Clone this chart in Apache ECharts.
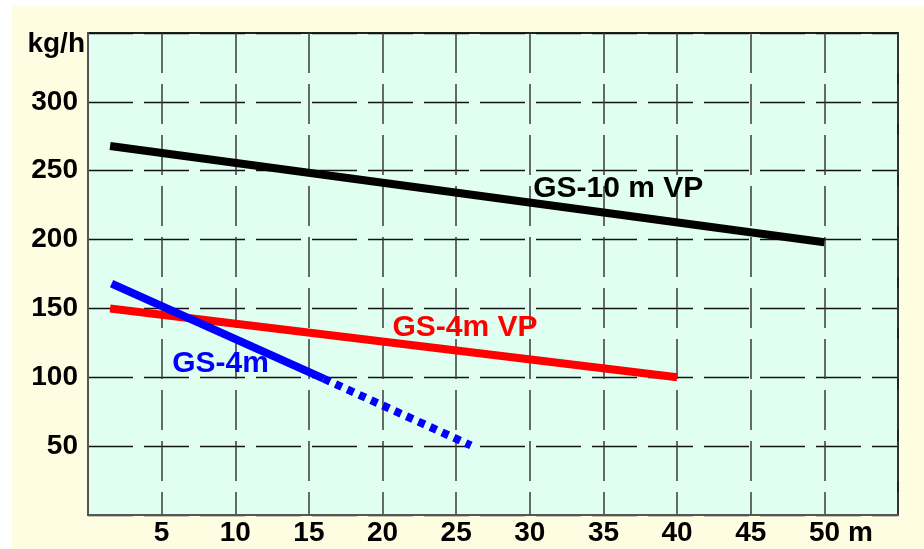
<!DOCTYPE html>
<html>
<head>
<meta charset="utf-8">
<script src="https://cdn.jsdelivr.net/npm/echarts@6/dist/echarts.min.js"></script>
<style>
html,body{margin:0;padding:0;background:#ffffff;width:924px;height:549px;overflow:hidden;}
#c{position:absolute;left:12px;top:6px;width:912px;height:543px;background:#FFFDE1;}
</style>
</head>
<body>
<div id="c"></div>
<script>
// Data
var xTicks = [5, 10, 15, 20, 25, 30, 35, 40, 45, 50];
var yTicks = [50, 100, 150, 200, 250, 300];
var xUnit = 'm';
var yUnit = 'kg/h';

var gs10vp = [[1.5, 268], [50, 198]];          // GS-10 m VP (black)
var gs4vp = [[1.5, 150], [40, 100]];           // GS-4m VP (red)
var gs4Solid = [[1.6, 168], [16, 99]];         // GS-4m (blue, solid part)
var gs4Dotted = [[16, 99], [26, 50.5]];        // GS-4m (blue, dotted part)

var names = ['GS-10 m VP', 'GS-4m VP', 'GS-4m'];

var chart = echarts.init(document.getElementById('c'));
var FONT = '"Liberation Sans", Arial, sans-serif';

function textMark(coord, text, color) {
  return {
    symbol: 'circle',
    symbolSize: 1,
    itemStyle: {color: 'rgba(0,0,0,0)'},
    silent: true,
    data: [{coord: coord}],
    label: {
      show: true, position: 'inside', formatter: text,
      color: color, fontFamily: FONT, fontWeight: 'bold', fontSize: 30
    }
  };
}

var option = {
  animation: false,
  backgroundColor: '#FFFDE1',
  grid: {
    left: 76, top: 27, right: 26, bottom: 34,
    show: true, backgroundColor: '#E0FFF0',
    borderColor: '#222', borderWidth: 2
  },
  xAxis: {
    type: 'value', min: 0, max: 55, interval: 5,
    axisLine: {show: true, lineStyle: {color: '#555', width: 2}},
    axisTick: {show: false},
    axisLabel: {
      margin: 4,
      formatter: function (v) {
        if (xTicks.indexOf(v) < 0) return '';
        if (v === xTicks[xTicks.length - 1]) return '{s| }{n|' + v + '}{n| ' + xUnit + '}';
        return '{n|' + v + '}';
      },
      rich: {
        n: {fontFamily: FONT, fontWeight: 'bold', fontSize: 28, color: '#000'},
        s: {width: 33, fontSize: 28}
      }
    },
    splitLine: {show: true, lineStyle: {color: '#3a3a3a', width: 1.5, type: [40, 11]}}
  },
  yAxis: {
    type: 'value', min: 0, max: 350, interval: 50,
    axisLine: {show: true, lineStyle: {color: '#555', width: 2}},
    axisTick: {show: false},
    axisLabel: {
      margin: 3,
      formatter: function (v) {
        if (v === 350) return '{u|' + yUnit + '}';
        if (yTicks.indexOf(v) < 0) return '';
        return '{n|' + v + '}';
      },
      rich: {
        n: {fontFamily: FONT, fontWeight: 'bold', fontSize: 28, color: '#000', padding: [0, 7, 0, 0]},
        u: {fontFamily: FONT, fontWeight: 'bold', fontSize: 28, color: '#000', padding: [22, 0, 0, 0]}
      }
    },
    splitLine: {show: true, lineStyle: {color: '#111', width: 1.3, type: [45, 11]}}
  },
  series: [
    {
      name: names[0], type: 'line', data: gs10vp, symbol: 'none',
      lineStyle: {color: '#000', width: 8, cap: 'butt'},
      markPoint: textMark([36, 237], names[0], '#000')
    },
    {
      name: names[1], type: 'line', data: gs4vp, symbol: 'none',
      lineStyle: {color: '#FF0000', width: 8, cap: 'butt'},
      markPoint: textMark([25.6, 136], names[1], '#FF0000')
    },
    {
      name: names[2], type: 'line', data: gs4Solid, symbol: 'none',
      lineStyle: {color: '#0000FF', width: 8, cap: 'butt'},
      markPoint: textMark([9, 110], names[2], '#0000FF')
    },
    {
      name: names[2] + ' dotted', type: 'line', data: gs4Dotted, symbol: 'none',
      lineStyle: {color: '#0000FF', width: 8, type: [7, 6], cap: 'butt'}
    }
  ]
};
chart.setOption(option);
</script>
</body>
</html>
